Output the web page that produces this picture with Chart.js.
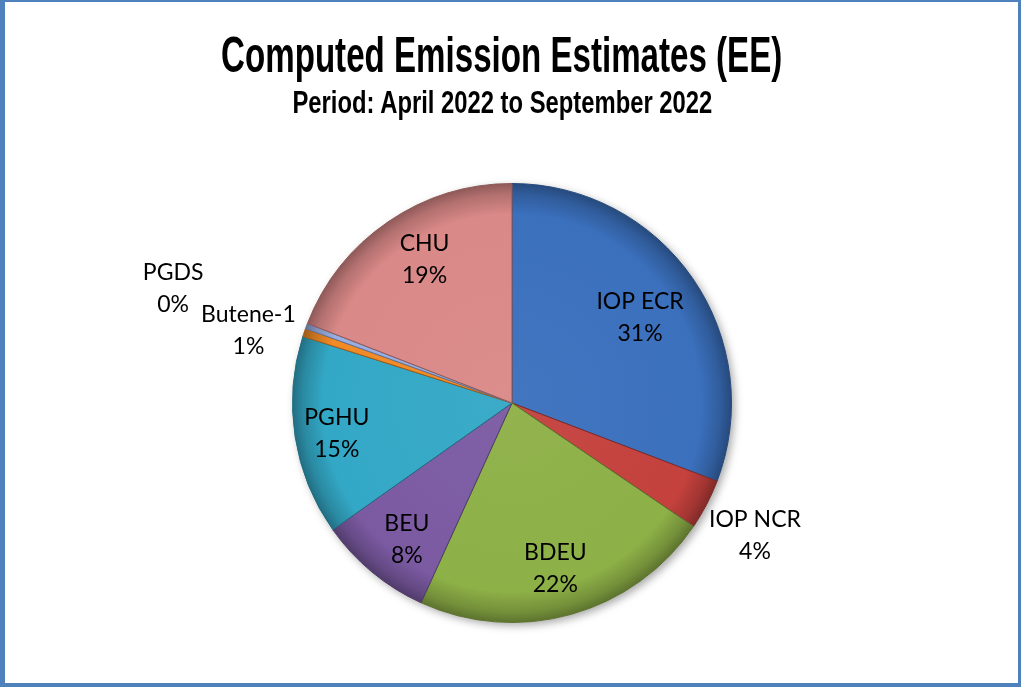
<!DOCTYPE html>
<html>
<head>
<meta charset="utf-8">
<script src="https://cdn.jsdelivr.net/npm/chart.js@4.4.0/dist/chart.umd.min.js"></script>
<style>
  html, body { margin: 0; padding: 0; background: #fff; }
  #wrap { position: relative; width: 1021px; height: 687px; overflow: hidden; background: #fff; }
  #frame {
    position: absolute; left: 0; top: 0; width: 1021px; height: 687px; box-sizing: border-box;
    border-style: solid; border-color: #4f81bd; border-width: 2px 3px 4px 5px; pointer-events: none;
  }
  .ttl {
    position: absolute; left: 0; width: 1004px; text-align: center; white-space: nowrap;
    font-family: "Liberation Sans Narrow", "Liberation Sans", sans-serif; font-weight: bold;
    line-height: 1; color: #000;
  }
  .ttl span { display: inline-block; transform-origin: center; }
  #t1 { top: 30px; font-size: 50px; }
  #t2 { top: 87px; font-size: 31px; }
  canvas { position: absolute; left: 0; top: 0; }
</style>
</head>
<body>
<div id="wrap">
  <canvas id="myChart" width="1021" height="687"></canvas>
  <div class="ttl" id="t1"><span data-w="561">Computed Emission Estimates (EE)</span></div>
  <div class="ttl" id="t2"><span data-w="420">Period: April 2022 to September 2022</span></div>
  <div id="frame"></div>
</div>
<script>
// share of total emissions (percent)
const categories = ['IOP ECR', 'IOP NCR', 'BDEU', 'BEU', 'PGHU', 'Butene-1', 'PGDS', 'CHU']
const shares = [30.8, 3.7, 22.3, 8.4, 14.7, 0.6, 0.4, 19.1]
const sliceColors = ['#3b70bd', '#c4413d', '#8db047', '#7b5aa2', '#33a8c6', '#f28a25', '#98ade0', '#d98987']

// squeeze the titles to the condensed look of the original
function fitTitles() {
  document.querySelectorAll('.ttl span').forEach(s => {
    s.style.transform = 'none'
    const w = s.offsetWidth
    s.style.transform = 'scaleX(' + (Number(s.dataset.w) / w) + ')'
  })
}
fitTitles()

function shade(hex, f) {
  const n = parseInt(hex.slice(1), 16)
  let r = n >> 16, g = (n >> 8) & 255, b = n & 255
  const t = f < 0 ? 0 : 255, p = Math.abs(f)
  r = Math.round(r + (t - r) * p); g = Math.round(g + (t - g) * p); b = Math.round(b + (t - b) * p)
  return 'rgb(' + r + ',' + g + ',' + b + ')'
}

const total = shares.reduce((a, b) => a + b, 0)

const pieShadow = {
  id: 'pieShadow',
  beforeDatasetsDraw(chart) {
    const arc = chart.getDatasetMeta(0).data[0]
    if (!arc) return
    const {x, y, outerRadius} = arc.getProps(['x', 'y', 'outerRadius'], true)
    const ctx = chart.ctx
    ctx.save()
    ctx.shadowColor = 'rgba(0,0,0,0.35)'
    ctx.shadowBlur = 8
    ctx.shadowOffsetX = 3
    ctx.shadowOffsetY = 3
    ctx.fillStyle = '#fff'
    ctx.beginPath()
    ctx.arc(x, y, outerRadius, 0, Math.PI * 2)
    ctx.fill()
    ctx.restore()
  }
}

const sliceLabels = {
  id: 'sliceLabels',
  afterDatasetsDraw(chart, args, opts) {
    const ctx = chart.ctx
    const meta = chart.getDatasetMeta(0)
    ctx.save()
    ctx.font = opts.font
    ctx.fillStyle = '#000'
    ctx.textAlign = 'center'
    ctx.textBaseline = 'middle'
    meta.data.forEach((arc, i) => {
      const p = arc.getProps(['x', 'y', 'startAngle', 'endAngle', 'outerRadius'], true)
      const mid = (p.startAngle + p.endAngle) / 2 + (opts.angleShift[i] || 0) * Math.PI / 180
      const r = p.outerRadius * opts.radius[i]
      const lx = p.x + Math.cos(mid) * r
      const ly = p.y + Math.sin(mid) * r
      const pct = Math.round(shares[i] / total * 100) + '%'
      ctx.fillText(categories[i], lx, ly - opts.gap)
      ctx.fillText(pct, lx, ly + opts.gap)
    })
    ctx.restore()
  }
}

const chart = new Chart(document.getElementById('myChart'), {
  type: 'pie',
  data: {
    labels: categories,
    datasets: [{
      data: shares,
      backgroundColor: (c) => {
        const base = sliceColors[c.dataIndex]
        const area = c.chart.chartArea
        if (!area) return base
        const cx = (area.left + area.right) / 2, cy = (area.top + area.bottom) / 2
        const rad = Math.min(area.right - area.left, area.bottom - area.top) / 2
        const g = c.chart.ctx.createRadialGradient(cx, cy, 0, cx, cy, rad)
        g.addColorStop(0, shade(base, 0.04))
        g.addColorStop(0.86, base)
        g.addColorStop(0.95, shade(base, -0.18))
        g.addColorStop(1, shade(base, -0.35))
        return g
      },
      borderColor: (c) => shade(sliceColors[c.dataIndex], -0.35),
      borderWidth: 1
    }]
  },
  options: {
    responsive: false,
    animation: false,
    devicePixelRatio: 1,
    layout: { padding: { top: 183, bottom: 64, left: 3, right: 0 } },
    plugins: {
      legend: { display: false },
      tooltip: { enabled: false },
      sliceLabels: {
        font: '23px Lato, "Liberation Sans", sans-serif',
        gap: 16,
        radius: [0.70, 1.26, 0.78, 0.785, 0.81, 1.245, 1.63, 0.765],
        angleShift: [1, 1, 1, -2, -1, -3.4, -1.8, 3]
      }
    }
  },
  plugins: [pieShadow, sliceLabels]
})

if (document.fonts && document.fonts.ready) {
  document.fonts.ready.then(() => { fitTitles(); chart.draw() })
}
</script>
</body>
</html>
